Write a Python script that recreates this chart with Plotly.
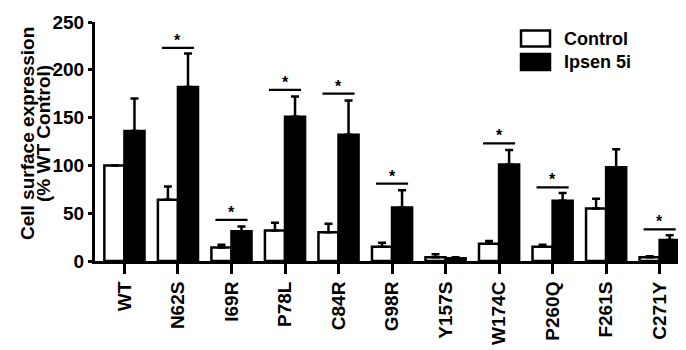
import plotly.graph_objects as go

categories = ["WT", "N62S", "I69R", "P78L", "C84R", "G98R", "Y157S", "W174C", "P260Q", "F261S", "C271Y"]
control_vals = [100, 64, 14, 32, 30, 15, 4, 18, 15, 55, 4]
control_err = [0, 14, 3, 8, 9, 4, 3, 3, 2, 10, 1]
ipsen_vals = [136, 182, 31, 151, 132, 56, 3, 101, 63, 98, 22]
ipsen_err = [34, 35, 5, 21, 36, 18, 1, 15, 8, 19, 5]
# height of significance bar (None = not significant)
sig_y = [None, 223, 43, 179, 175, 81, None, 123, 77, None, 33]
y_ticks = [0, 50, 100, 150, 200, 250]
series_names = ["Control", "Ipsen 5i"]

FONT = "Liberation Sans, Arial, sans-serif"
W, H = 686, 350
L, R, T, B = 87, 6, 14, 97
pw, ph = W - L - R, H - T - B

def px_x(p):
    return (p - L) / pw

def px_y(p):
    return (H - B - p) / ph

fig = go.Figure()
fig.add_trace(go.Bar(
    x=list(range(len(categories))), y=control_vals, name=series_names[0],
    marker=dict(color="white", line=dict(color="black", width=2.5)),
    error_y=dict(type="data", array=control_err, arrayminus=[0]*len(categories), symmetric=False,
                 color="black", thickness=2.5, width=4),
    showlegend=False,
))
fig.add_trace(go.Bar(
    x=list(range(len(categories))), y=ipsen_vals, name=series_names[1],
    marker=dict(color="black", line=dict(color="black", width=2.5)),
    error_y=dict(type="data", array=ipsen_err, arrayminus=[0]*len(categories), symmetric=False,
                 color="black", thickness=2.5, width=4),
    showlegend=False,
))

shapes = []
annotations = []
for i, s in enumerate(sig_y):
    if s is None:
        continue
    shapes.append(dict(type="line", xref="x", yref="y", x0=i - 0.3, x1=i + 0.3, y0=s, y1=s,
                       line=dict(color="black", width=2.2)))
    annotations.append(dict(x=i, y=s, xref="x", yref="y", text="*", showarrow=False,
                            yanchor="bottom", yshift=-3,
                            font=dict(family=FONT, size=16, color="black", weight="bold")))

# custom legend (Prism style boxes)
legend_items = [(series_names[0], "white", 22.5, 38.5), (series_names[1], "black", 46, 62)]
for name, fill, ytop, ybot in legend_items:
    shapes.append(dict(type="rect", xref="paper", yref="paper",
                       x0=px_x(513), x1=px_x(542), y0=px_y(ybot), y1=px_y(ytop),
                       fillcolor=fill, line=dict(color="black", width=2.5)))
    annotations.append(dict(x=px_x(554), y=px_y((ytop + ybot) / 2), xref="paper", yref="paper",
                            text=name, showarrow=False, xanchor="left", yanchor="middle",
                            font=dict(family=FONT, size=18, color="black", weight="bold")))

# y-axis title, two tightly spaced lines
for txt, xc in [("Cell surface expression", 19), ("(% WT Control)", 35)]:
    annotations.append(dict(x=px_x(xc), y=px_y(126), xref="paper", yref="paper", text=txt,
                            textangle=-90, showarrow=False, xanchor="center", yanchor="middle",
                            font=dict(family=FONT, size=19, color="black", weight="bold")))

fig.update_layout(
    width=W, height=H,
    margin=dict(l=L, r=R, t=T, b=B, pad=0, autoexpand=False),
    paper_bgcolor="white", plot_bgcolor="white",
    barmode="group", bargap=0.25, bargroupgap=0,
    shapes=shapes, annotations=annotations,
    font=dict(family=FONT, size=19, color="black"),
    xaxis=dict(
        tickmode="array", tickvals=list(range(len(categories))), ticktext=categories,
        range=[-0.55, len(categories) - 1 + 0.53], automargin=False,
        showline=True, linecolor="black", linewidth=3,
        ticks="outside", ticklen=10, tickwidth=2.5, tickcolor="black",
        tickangle=-90, showgrid=False, zeroline=False,
        tickfont=dict(family=FONT, size=19, color="black", weight="bold"),
    ),
    yaxis=dict(
        range=[0, 250], tickmode="array", tickvals=y_ticks, automargin=False,
        showline=True, linecolor="black", linewidth=3,
        ticks="outside", ticklen=4, tickwidth=2.5, tickcolor="black",
        showgrid=False, zeroline=False,
        tickfont=dict(family=FONT, size=19, color="black", weight="bold"),
    ),
)

fig.write_html("out.html")
